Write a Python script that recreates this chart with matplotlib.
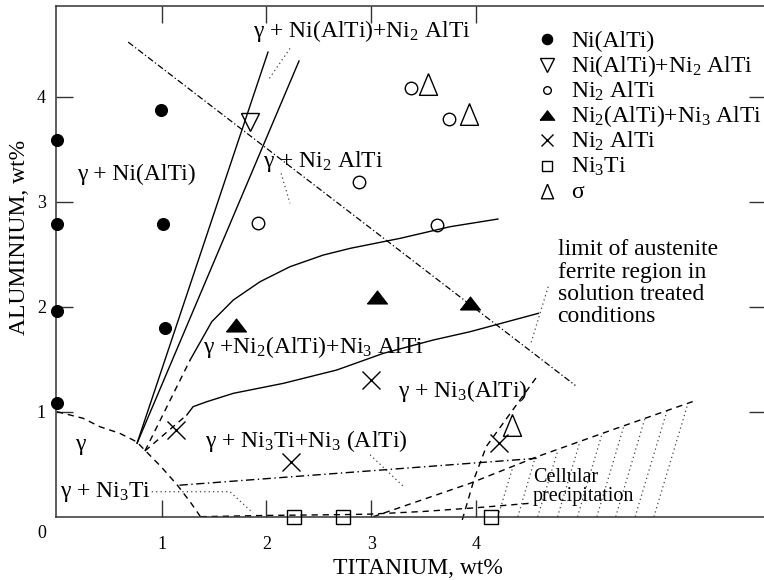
import matplotlib
matplotlib.use("Agg")
import matplotlib.pyplot as plt

plt.rcParams["font.family"] = ["Liberation Serif", "DejaVu Serif"]
plt.rcParams["mathtext.fontset"] = "custom"
plt.rcParams["mathtext.rm"] = "Liberation Serif"
plt.rcParams["mathtext.it"] = "Liberation Serif:italic"
plt.rcParams["mathtext.bf"] = "Liberation Serif:bold"

# --- measured alloys (Ti wt%, Al wt%) ---
ni_alti_ti = [0.0, 0.0, 0.0, 0.0, 0.99, 1.01, 1.03]
ni_alti_al = [3.59, 2.79, 1.96, 1.08, 3.87, 2.79, 1.80]
ni_alti_ni2_ti = [1.84]
ni_alti_ni2_al = [3.76]
ni2_alti_ti = [3.38, 3.74, 2.88, 1.92, 3.63]
ni2_alti_al = [4.08, 3.79, 3.19, 2.80, 2.78]
ni2_ni3_ti = [1.71, 3.06, 3.94]
ni2_ni3_al = [1.83, 2.09, 2.04]
cross_ti = [1.14, 2.23, 3.00, 4.22]
cross_al = [0.83, 0.52, 1.30, 0.70]
ni3ti_ti = [2.26, 2.73, 4.14]
ni3ti_al = [0.0, 0.0, 0.0]
sigma_ti = [3.54, 3.93, 4.34]
sigma_al = [4.12, 3.84, 0.87]

# --- phase boundaries ---
solid_a_ti = [0.765, 2.015]
solid_a_al = [0.70, 4.425]
solid_b_ti = [0.765, 2.311]
solid_b_al = [0.70, 4.34]
upper_curve_ti = [1.27, 1.478, 1.684, 1.939, 2.225, 2.543, 2.80, 3.276, 3.754, 4.21]
upper_curve_al = [1.49, 1.857, 2.064, 2.238, 2.381, 2.492, 2.556, 2.651, 2.762, 2.835]
lower_curve_ti = [1.24, 1.30, 1.43, 1.684, 2.161, 2.671, 3.117, 3.594, 3.945, 4.597]
lower_curve_al = [0.969, 1.048, 1.095, 1.175, 1.270, 1.397, 1.556, 1.683, 1.762, 1.937]
dash_up_ti = [0.84, 1.27]
dash_up_al = [0.626, 1.49]
dash_low_ti = [0.84, 1.24]
dash_low_al = [0.626, 0.969]
gamma_ti = [0.0, 0.25, 0.41, 0.60, 0.76, 1.0, 1.15, 1.28, 1.37]
gamma_al = [1.0, 0.937, 0.857, 0.794, 0.714, 0.47, 0.30, 0.13, 0.0]
bottom_ti = [1.37, 2.0, 2.75, 3.0, 3.5, 4.0, 4.52]
bottom_al = [0.0, 0.012, 0.02, 0.025, 0.05, 0.085, 0.128]
cell_top_ti = [3.02, 3.95, 4.58, 5.31, 6.08]
cell_top_al = [0.0, 0.32, 0.57, 0.83, 1.10]
ni3_ti = [3.87, 3.99, 4.10, 4.26, 4.42, 4.58]
ni3_al = [-0.03, 0.38, 0.67, 0.89, 1.11, 1.33]
limit_ti = [0.68, 4.95]
limit_al = [4.52, 1.25]
dashdot_ti = [1.17, 4.58]
dashdot_al = [0.30, 0.556]

# cellular precipitation hatching (bottom Ti, top Ti, top Al)
hatch_bottom_ti = [4.21, 4.40, 4.59, 4.78, 4.97, 5.155, 5.335, 5.52, 5.70]
hatch_top_ti = [4.355, 4.565, 4.785, 4.995, 5.205, 5.415, 5.615, 5.825, 6.025]
hatch_top_al = [0.48, 0.56, 0.64, 0.72, 0.79, 0.87, 0.94, 1.01, 1.08]

# leader lines from labels
leaders = [
    ([2.225, 2.018], [4.46, 4.16]),
    ([2.14, 2.225], [3.27, 2.985]),
    ([0.905, 1.652, 1.872], [0.238, 0.238, 0.035]),
    ([2.99, 3.31], [0.59, 0.286]),
    ([4.69, 4.52], [2.19, 1.635]),
]

legend_labels = [
    "Ni(AlTi)",
    "Ni(AlTi)+Ni$_2$ AlTi",
    "Ni$_2$ AlTi",
    "Ni$_2$(AlTi)+Ni$_3$ AlTi",
    "Ni$_2$ AlTi",
    "Ni$_3$Ti",
    "σ",
]

tri_up_flat = [(-1, -0.65), (1, -0.65), (0, 0.65), (-1, -0.65)]
tri_up_tall = [(0, 1), (-0.83, -1), (0.83, -1), (0, 1)]

open_kw = dict(markerfacecolor="none", markeredgecolor="black", markeredgewidth=1.0)
filled_kw = dict(markerfacecolor="black", markeredgecolor="black", markeredgewidth=0.8)
styles = [
    dict(marker="o", ms=8.6, **filled_kw),
    dict(marker="v", ms=13.5, **open_kw),
    dict(marker="o", ms=9.0, **open_kw),
    dict(marker=tri_up_flat, ms=14.4, **filled_kw),
    dict(marker="x", ms=13, markeredgecolor="black", markeredgewidth=1.0),
    dict(marker="s", ms=10, **open_kw),
    dict(marker=tri_up_tall, ms=15.6, **open_kw),
]
legend_ms = [7.5, 9.5, 5.5, 10.5, 8.5, 7.8, 10.5]

series = [
    (ni_alti_ti, ni_alti_al),
    (ni_alti_ni2_ti, ni_alti_ni2_al),
    (ni2_alti_ti, ni2_alti_al),
    (ni2_ni3_ti, ni2_ni3_al),
    (cross_ti, cross_al),
    (ni3ti_ti, ni3ti_al),
    (sigma_ti, sigma_al),
]

fig = plt.figure(figsize=(7.64, 5.8), dpi=100)
ax = fig.add_axes([55.5 / 764, 63.3 / 580, 710.5 / 764, 510.7 / 580])
ax.set_xlim(-0.014, 6.77)
ax.set_ylim(0, 4.864)

dashed = (0, (4.5, 3.5))
dashdot = (0, (6, 2.5, 1, 2.5))
dotted = (0, (1, 2.5))
line_kw = dict(color="black", lw=1.0)

ax.plot(solid_a_ti, solid_a_al, **line_kw)
ax.plot(solid_b_ti, solid_b_al, **line_kw)
ax.plot(upper_curve_ti, upper_curve_al, **line_kw)
ax.plot(lower_curve_ti, lower_curve_al, **line_kw)
for xs, ys in [(dash_up_ti, dash_up_al), (dash_low_ti, dash_low_al),
               (gamma_ti, gamma_al), (bottom_ti, bottom_al),
               (cell_top_ti, cell_top_al)]:
    ax.plot(xs, ys, ls=dashed, **line_kw)
ax.plot(ni3_ti, ni3_al, ls=dashed, clip_on=False, **line_kw)
ax.plot(limit_ti, limit_al, ls=(0, (5, 2, 1, 2)), color="black", lw=0.9)
ax.plot(dashdot_ti, dashdot_al, ls=dashdot, **line_kw)

for b, t, ta in zip(hatch_bottom_ti, hatch_top_ti, hatch_top_al):
    ax.plot([b, t], [0, ta], ls=dotted, color="#444444", lw=0.9)
for xs, ys in leaders:
    ax.plot(xs, ys, ls=dotted, color="#444444", lw=0.9)

for (xs, ys), st in zip(series, styles):
    ax.plot(xs, ys, ls="none", clip_on=False, zorder=5, **st)

fs = 17

# legend drawn as a column of keys
key_x, text_x = 4.677, 4.91
base_y, step = 4.476, 0.2405
for i, (lab, st) in enumerate(zip(legend_labels, styles)):
    y = base_y - i * step
    kw = dict(st)
    kw["ms"] = legend_ms[i]
    ax.plot([key_x], [y + 0.07], ls="none", **kw)
    ax.text(text_x, y, lab, fontsize=fs, va="baseline", ha="left")

# region labels
ax.text(1.875, 4.57, "γ + Ni(AlTi)+Ni$_2$ AlTi", fontsize=fs, va="baseline")
ax.text(0.19, 3.206, "γ + Ni(AlTi)", fontsize=fs, va="baseline")
ax.text(1.965, 3.333, "γ + Ni$_2$ AlTi", fontsize=fs, va="baseline")
ax.text(1.39, 1.556, "γ +Ni$_2$(AlTi)+Ni$_3$ AlTi", fontsize=fs, va="baseline")
ax.text(3.26, 1.143, "γ + Ni$_3$(AlTi)", fontsize=fs, va="baseline")
ax.text(1.413, 0.667, "γ + Ni$_3$Ti+Ni$_3$ (AlTi)", fontsize=fs, va="baseline")
ax.text(0.17, 0.635, "γ", fontsize=fs, va="baseline")
ax.text(0.03, 0.19, "γ + Ni$_3$Ti", fontsize=fs, va="baseline")

limit_lines = ["limit of austenite", "ferrite region in",
               "solution treated", "conditions"]
for i, line in enumerate(limit_lines):
    ax.text(4.78, 2.49 - i * 0.2125, line, fontsize=fs, va="baseline")
ax.text(4.55, 0.333, "Cellular", fontsize=14.5, va="baseline")
ax.text(4.545, 0.152, "precipitation", fontsize=14.5, va="baseline")

# axes styling
for sp in ax.spines.values():
    sp.set_linewidth(1.1)
    sp.set_color("#333333")
ax.set_xticks([1, 2, 3, 4])
ax.set_yticks([1, 2, 3, 4])
ax.tick_params(direction="in", length=12, width=1.0, color="#333333",
               top=True, right=True, labelsize=13)
ax.tick_params(axis="x", pad=14)
ax.tick_params(axis="y", pad=7)
ax.text(-0.0194, -0.0325, "0", fontsize=13, ha="center", va="center",
        transform=ax.transAxes)

ax.set_xlabel("TITANIUM, wt%", fontsize=fs, va="center")
ax.xaxis.set_label_coords(0.51, -0.1005)
ax.set_ylabel("ALUMINIUM, wt%", fontsize=fs, va="center")
ax.yaxis.set_label_coords(-0.05, 0.546)

fig.savefig("out.png", dpi=100)
